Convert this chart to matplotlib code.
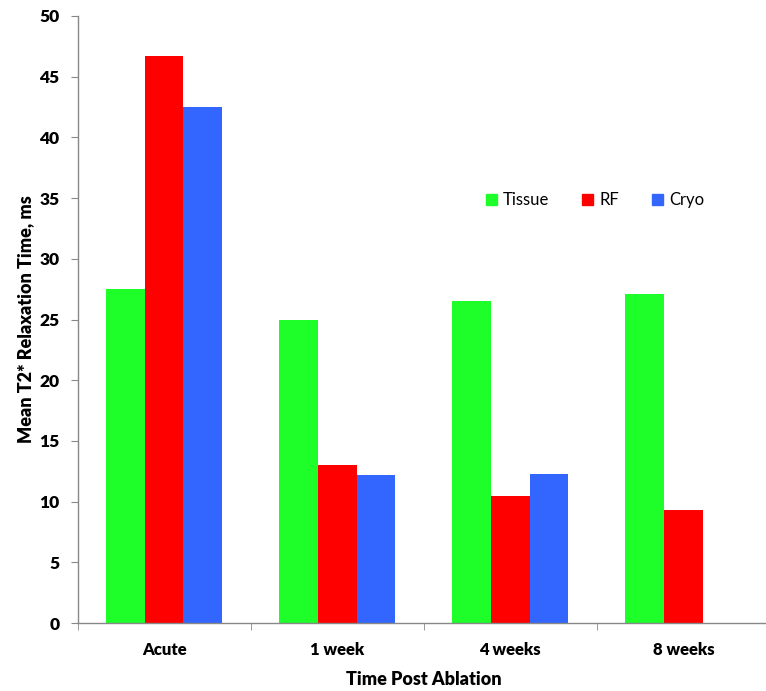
import numpy as np
import matplotlib
matplotlib.use('Agg')
import matplotlib.pyplot as plt
from matplotlib.patches import Patch

categories = ['Acute', '1 week', '4 weeks', '8 weeks']
series = ['Tissue', 'RF', 'Cryo']
tissue = [27.5, 25.0, 26.5, 27.1]
rf = [46.7, 13.0, 10.5, 9.3]
cryo = [42.5, 12.2, 12.3, np.nan]
colors = ['#1EFF2A', '#FF0000', '#3366FF']

plt.rcParams['font.family'] = ['Lato', 'DejaVu Sans']

fig = plt.figure(figsize=(7.66, 6.91), dpi=100)
ax = fig.add_axes([77.5/766, 68/691, 692.5/766, 607/691])

x = np.arange(len(categories))
w = 0.224
for i, (vals, c) in enumerate(zip([tissue, rf, cryo], colors)):
    ax.bar(x + (i-1)*w, vals, w, color=c, zorder=2)

ax.set_xlim(-0.5, 3.5)
ax.set_ylim(0, 50)
ax.set_yticks(range(0, 51, 5))
ax.set_xticks(x)
ax.set_xticklabels(categories, fontsize=12, fontweight='heavy')
ax.set_xticks(np.arange(-0.5, 3.6, 1), minor=True)
ax.tick_params(axis='x', which='major', length=0, pad=14)
ax.tick_params(axis='x', which='minor', length=5, color='#888888', direction='out')
ax.tick_params(axis='y', length=5, color='#888888', labelsize=12.5, pad=8)
for t in ax.get_yticklabels():
    t.set_fontweight('heavy')
for s in ['top', 'right']:
    ax.spines[s].set_visible(False)
for s in ['left', 'bottom']:
    ax.spines[s].set_color('#888888')
    ax.spines[s].set_linewidth(1.0)

ax.set_ylabel('Mean T2* Relaxation Time, ms', fontsize=13, fontweight='heavy', labelpad=4)
ax.set_xlabel('Time Post Ablation', fontsize=13, fontweight='heavy', labelpad=9)

handles = [Patch(color=c, label=s) for s, c in zip(series, colors)]
ax.legend(handles=handles, loc='center', bbox_to_anchor=(595/692.5 - 77.5/692.5, (623-200)/607),
          ncol=3, frameon=False, fontsize=12, handlelength=0.65, handleheight=0.65,
          handletextpad=0.35, columnspacing=2.0)

fig.savefig('out.png', dpi=100)
